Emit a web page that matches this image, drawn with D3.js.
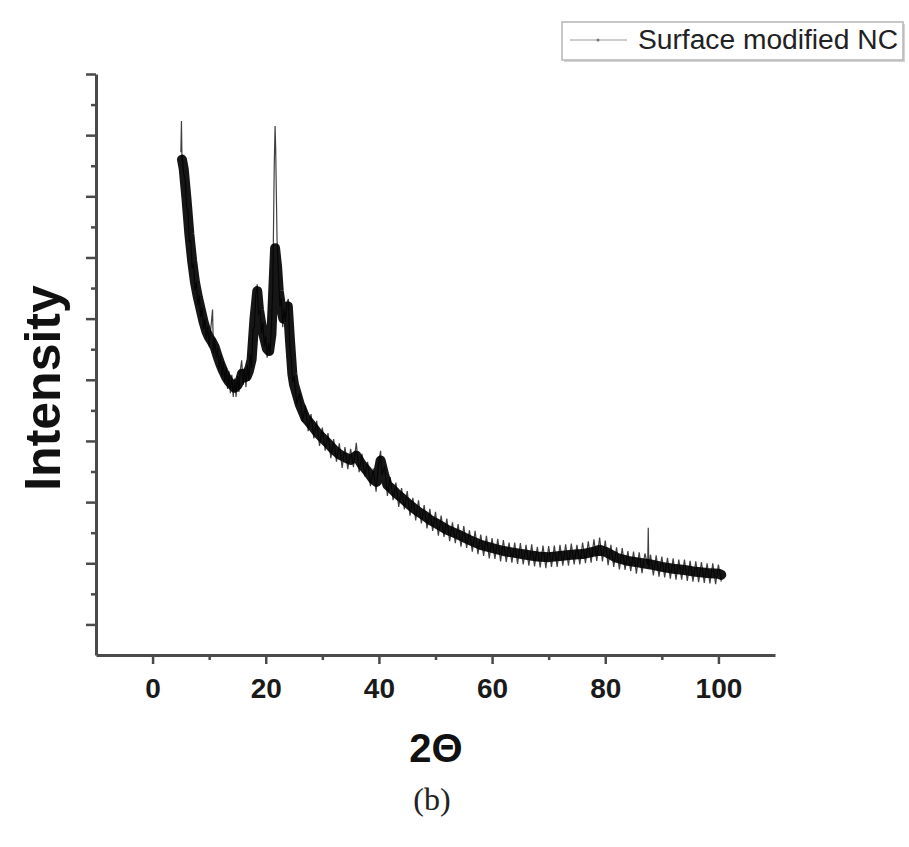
<!DOCTYPE html>
<html lang="en">
<head>
    <title>XRD - Surface modified NC</title>
    <style>
        body { margin: 0; background: #fff; }
        text { font-family: "Liberation Sans", Arial, sans-serif; }
    </style>
    <script src="https://d3js.org/d3.v7.min.js"></script>
</head>
<body>
    <script>

        // DATA //

        // x axis ticks (2 theta) - labelled majors and unlabelled minors
        const xMajorTicks = [0, 20, 40, 60, 80, 100];
        const xMinorTicks = [10, 30, 50, 70, 90];

        // y axis has no labels, only tick marks (counts)
        const yMajorTicks = [0, 100, 200, 300, 400, 500, 600, 700, 800, 900];
        const yMinorTicks = [50, 150, 250, 350, 450, 550, 650, 750, 850];

        const seriesName = "Surface modified NC";

        // band centre of the pattern
        const centerTheta = [5.2, 5.5, 6.0, 6.5, 7.0, 7.5, 8.0, 8.5, 9.0, 9.5, 10.0, 10.5, 11.0, 11.5, 12.0, 12.5,
            13.0, 13.5, 14.0, 14.5, 15.0, 15.5, 15.8, 16.2, 16.6, 17.0, 17.5, 18.0, 18.5, 18.8, 19.2, 19.7,
            20.2, 20.6, 21.0, 21.3, 21.65, 22.0, 22.3, 22.7, 23.1, 23.5, 23.9, 24.3, 24.7, 25.0, 25.5, 26,
            27, 28, 29, 30, 31, 32, 33, 34, 35, 36, 37, 38, 39, 39.6, 40.3, 41, 41.5, 42, 43, 44, 45, 46,
            47, 48, 49, 50, 52, 54, 56, 58, 60, 62, 64, 66, 68, 70, 72, 74, 76, 78, 79, 80, 82, 84, 86, 88,
            90, 92, 94, 96, 98, 100, 100.5];
        const centerCounts = [760, 745, 695, 638, 594, 559, 535, 515, 495, 479, 469, 462, 453, 438, 425, 414,
            404, 397, 392, 387, 391, 400, 410, 404, 405, 414, 433, 499, 545, 515, 492, 470,
            451, 447, 474, 540, 615, 585, 545, 520, 500, 507, 520, 462, 410, 392, 376, 360,
            338, 327, 315, 305, 296, 286, 278, 273, 269, 276, 261, 250, 237, 233, 268, 242, 228, 224, 215, 207, 199, 191,
            184, 178, 171, 166, 155, 147, 138, 130, 125, 120, 117, 114, 111, 110, 112, 114, 115, 119, 122, 119, 109, 104, 101, 98,
            94, 91, 89, 86, 84, 83, 81];

        // the noisy scan itself [2theta, counts]
        const scan = [
            [5.0, 772], [5.1, 823], [5.2, 758], [5.25, 768], [5.5, 736], [5.75, 731], [6.0, 684], [6.25, 676],
            [6.5, 626], [6.75, 627], [7.0, 582], [7.25, 590], [7.5, 546], [7.75, 560], [8.0, 522], [8.25, 538],
            [8.5, 502], [8.75, 518], [9.0, 482], [9.25, 500], [9.5, 466], [9.75, 488], [10.0, 455], [10.25, 480],
            [10.5, 505], [10.6, 515], [10.75, 444], [11.0, 468], [11.25, 436], [11.5, 452], [11.75, 417], [12.0, 440],
            [12.25, 405], [12.5, 430], [12.75, 396], [13.0, 420], [13.25, 385], [13.5, 414], [13.75, 378], [14.0, 408],
            [14.25, 372], [14.5, 402], [14.75, 372], [15.0, 406], [15.25, 380], [15.5, 416], [15.75, 432], [16.0, 392],
            [16.25, 420], [16.5, 388], [16.75, 424], [17.0, 398], [17.25, 442], [17.5, 420], [17.75, 482], [18.0, 488],
            [18.25, 540], [18.5, 556], [18.75, 508], [19.0, 512], [19.25, 476], [19.5, 494], [19.75, 454], [20.0, 472],
            [20.25, 436], [20.5, 460], [20.75, 442], [21.0, 488], [21.25, 552], [21.5, 750], [21.65, 815], [21.75, 780],
            [22.0, 628], [22.25, 572], [22.5, 520], [22.75, 533], [23.0, 486], [23.25, 516], [23.5, 495], [23.75, 527],
            [24.0, 532], [24.25, 455], [24.5, 436], [24.75, 396], [25.0, 406],
            [25.5, 360], [26, 378], [26.5, 331], [27, 358], [27.5, 316], [28, 344], [28.5, 304], [29, 333],
            [29.5, 292], [30, 322], [30.5, 284], [31, 313], [31.5, 272], [32, 303], [32.5, 266], [33, 296],
            [33.5, 256], [34, 290], [34.5, 254], [35, 287], [35.5, 257], [36, 297], [36.5, 249], [37, 279],
            [37.5, 242], [38, 266], [38.5, 226], [39, 255], [39.5, 217], [40, 268], [40.3, 284], [40.5, 244],
            [41, 259], [41.5, 210], [42, 241], [42.5, 203], [43, 232], [43.5, 192], [44, 223], [44.5, 188],
            [45, 218], [45.5, 178], [46, 207], [46.5, 170], [47, 203], [47.5, 165], [48, 195], [48.5, 157],
            [49, 189], [49.5, 153], [50, 184], [50.5, 145], [51, 178], [51.5, 143], [52, 173], [52.5, 136],
            [53, 167], [53.5, 133], [54, 164], [54.5, 127], [55, 161], [55.5, 125], [56, 154], [56.5, 119],
            [57, 153], [57.5, 115], [58, 147], [58.5, 112], [59, 145], [59.5, 108], [60, 141], [60.5, 107],
            [61, 140], [61.5, 103], [62, 138], [62.5, 102], [63, 134], [63.5, 101], [64, 134], [64.5, 99],
            [65, 133], [65.5, 98], [66, 130], [66.5, 96], [67, 131], [67.5, 95], [68, 127], [68.5, 93],
            [69, 129], [69.5, 92], [70, 128], [70.5, 94], [71, 129], [71.5, 94], [72, 130], [72.5, 96],
            [73, 131], [73.5, 96], [74, 132], [74.5, 98], [75, 130], [75.5, 98], [76, 134], [76.5, 100],
            [77, 136], [77.5, 101], [78, 139], [78.5, 104], [79, 142], [79.5, 103], [80, 137], [80.5, 97],
            [81, 130], [81.5, 94], [82, 126], [82.5, 90], [83, 125], [83.5, 89], [84, 120], [84.5, 87],
            [85, 119], [85.5, 83], [86, 118], [86.5, 84], [87, 116], [87.5, 98], [87.6, 158], [87.7, 92],
            [88, 114], [88.5, 80], [89, 113], [89.5, 78], [90, 111], [90.5, 77], [91, 109], [91.5, 75],
            [92, 108], [92.5, 73], [93, 106], [93.5, 73], [94, 106], [94.5, 71], [95, 104], [95.5, 70],
            [96, 103], [96.5, 69], [97, 102], [97.5, 68], [98, 100], [98.5, 67], [99, 100], [99.5, 66],
            [100, 98], [100.5, 70]
        ];

        // SIZES //
        const width  = 909;
        const height = 847;

        const svg = d3.select("body")
            .append("svg")
            .attr("width", width)
            .attr("height", height);

        // scales
        const x = d3.scaleLinear()
            .domain([-10, 110])
            .range([96, 775]);

        const y = d3.scaleLinear()
            .domain([-50, 900])
            .range([655, 74]);

        // the data goes under the axes
        const plot = svg.append("g");

        // dark core of the noisy band
        plot.append("path")
            .datum(d3.zip(centerTheta, centerCounts))
            .attr("fill", "none")
            .attr("stroke", "#161616")
            .attr("stroke-width", 10)
            .attr("stroke-linejoin", "round")
            .attr("stroke-linecap", "round")
            .attr("d", d3.line()
                .x(d => x(d[0]))
                .y(d => y(d[1]))
            );

        // noisy scan on top
        plot.append("path")
            .datum(scan)
            .attr("fill", "none")
            .attr("stroke", "#000")
            .attr("stroke-opacity", 0.75)
            .attr("stroke-width", 1.2)
            .attr("d", d3.line()
                .x(d => x(d[0]))
                .y(d => y(d[1]))
            );

        // AXES //
        const axisColor = "#4a4a4a";

        function styleAxis(g) {
            g.select(".domain").attr("stroke", axisColor).attr("stroke-width", 3);
            g.selectAll(".tick line").attr("stroke", axisColor).attr("stroke-width", 2.5);
        }

        // bottom axis, major ticks with labels
        const xAxis = svg.append("g")
            .attr("transform", "translate(0,655)")
            .call(d3.axisBottom(x)
                .tickValues(xMajorTicks)
                .tickSize(9)
                .tickSizeOuter(0)
                .tickPadding(14)
                .tickFormat(d3.format("d")));
        styleAxis(xAxis);
        xAxis.selectAll(".tick text")
            .attr("fill", "#1a1a1a")
            .style("font-size", "28px")
            .style("font-weight", "bold")
            .style("font-family", "'Liberation Sans', Arial, sans-serif");

        // bottom axis minor ticks
        const xMinor = svg.append("g")
            .attr("transform", "translate(0,655)")
            .call(d3.axisBottom(x)
                .tickValues(xMinorTicks)
                .tickSize(5)
                .tickSizeOuter(0)
                .tickFormat(""));
        styleAxis(xMinor);
        xMinor.select(".domain").remove();

        // left axis, only marks
        const yAxis = svg.append("g")
            .attr("transform", "translate(96,0)")
            .call(d3.axisLeft(y)
                .tickValues(yMajorTicks)
                .tickSize(10)
                .tickSizeOuter(0)
                .tickFormat(""));
        styleAxis(yAxis);

        const yMinor = svg.append("g")
            .attr("transform", "translate(96,0)")
            .call(d3.axisLeft(y)
                .tickValues(yMinorTicks)
                .tickSize(5)
                .tickSizeOuter(0)
                .tickFormat(""));
        styleAxis(yMinor);
        yMinor.select(".domain").remove();

        // AXIS TITLES //
        svg.append("text")
            .attr("x", 436)
            .attr("y", 762)
            .attr("text-anchor", "middle")
            .style("font-size", "40px")
            .style("font-weight", "bold")
            .attr("fill", "#111")
            .text("2\u0398");

        svg.append("text")
            .attr("transform", "translate(60,388) rotate(-90)")
            .attr("text-anchor", "middle")
            .style("font-size", "50px")
            .style("font-weight", "bold")
            .attr("fill", "#111")
            .text("Intensity");

        // panel caption
        svg.append("text")
            .attr("x", 432)
            .attr("y", 810)
            .attr("text-anchor", "middle")
            .style("font-family", "'Liberation Serif', 'Times New Roman', serif")
            .style("font-size", "32px")
            .attr("fill", "#222")
            .text("(b)");

        // LEGEND //
        const legend = svg.append("g").attr("transform", "translate(562,22)");

        legend.append("rect")
            .attr("x", 2).attr("y", 2)
            .attr("width", 341).attr("height", 38)
            .attr("fill", "#d4d4d4");

        legend.append("rect")
            .attr("width", 341).attr("height", 38)
            .attr("fill", "#fff")
            .attr("stroke", "#b5b5b5")
            .attr("stroke-width", 1.5);

        legend.append("line")
            .attr("x1", 8).attr("x2", 65)
            .attr("y1", 18).attr("y2", 18)
            .attr("stroke", "#9a9a9a")
            .attr("stroke-width", 1);

        legend.append("circle")
            .attr("cx", 36).attr("cy", 18).attr("r", 1.5)
            .attr("fill", "#777");

        legend.append("text")
            .attr("x", 76)
            .attr("y", 26.5)
            .attr("textLength", 260)
            .attr("lengthAdjust", "spacingAndGlyphs")
            .style("font-size", "27px")
            .attr("fill", "#222")
            .text(seriesName);

    </script>
</body>
</html>
